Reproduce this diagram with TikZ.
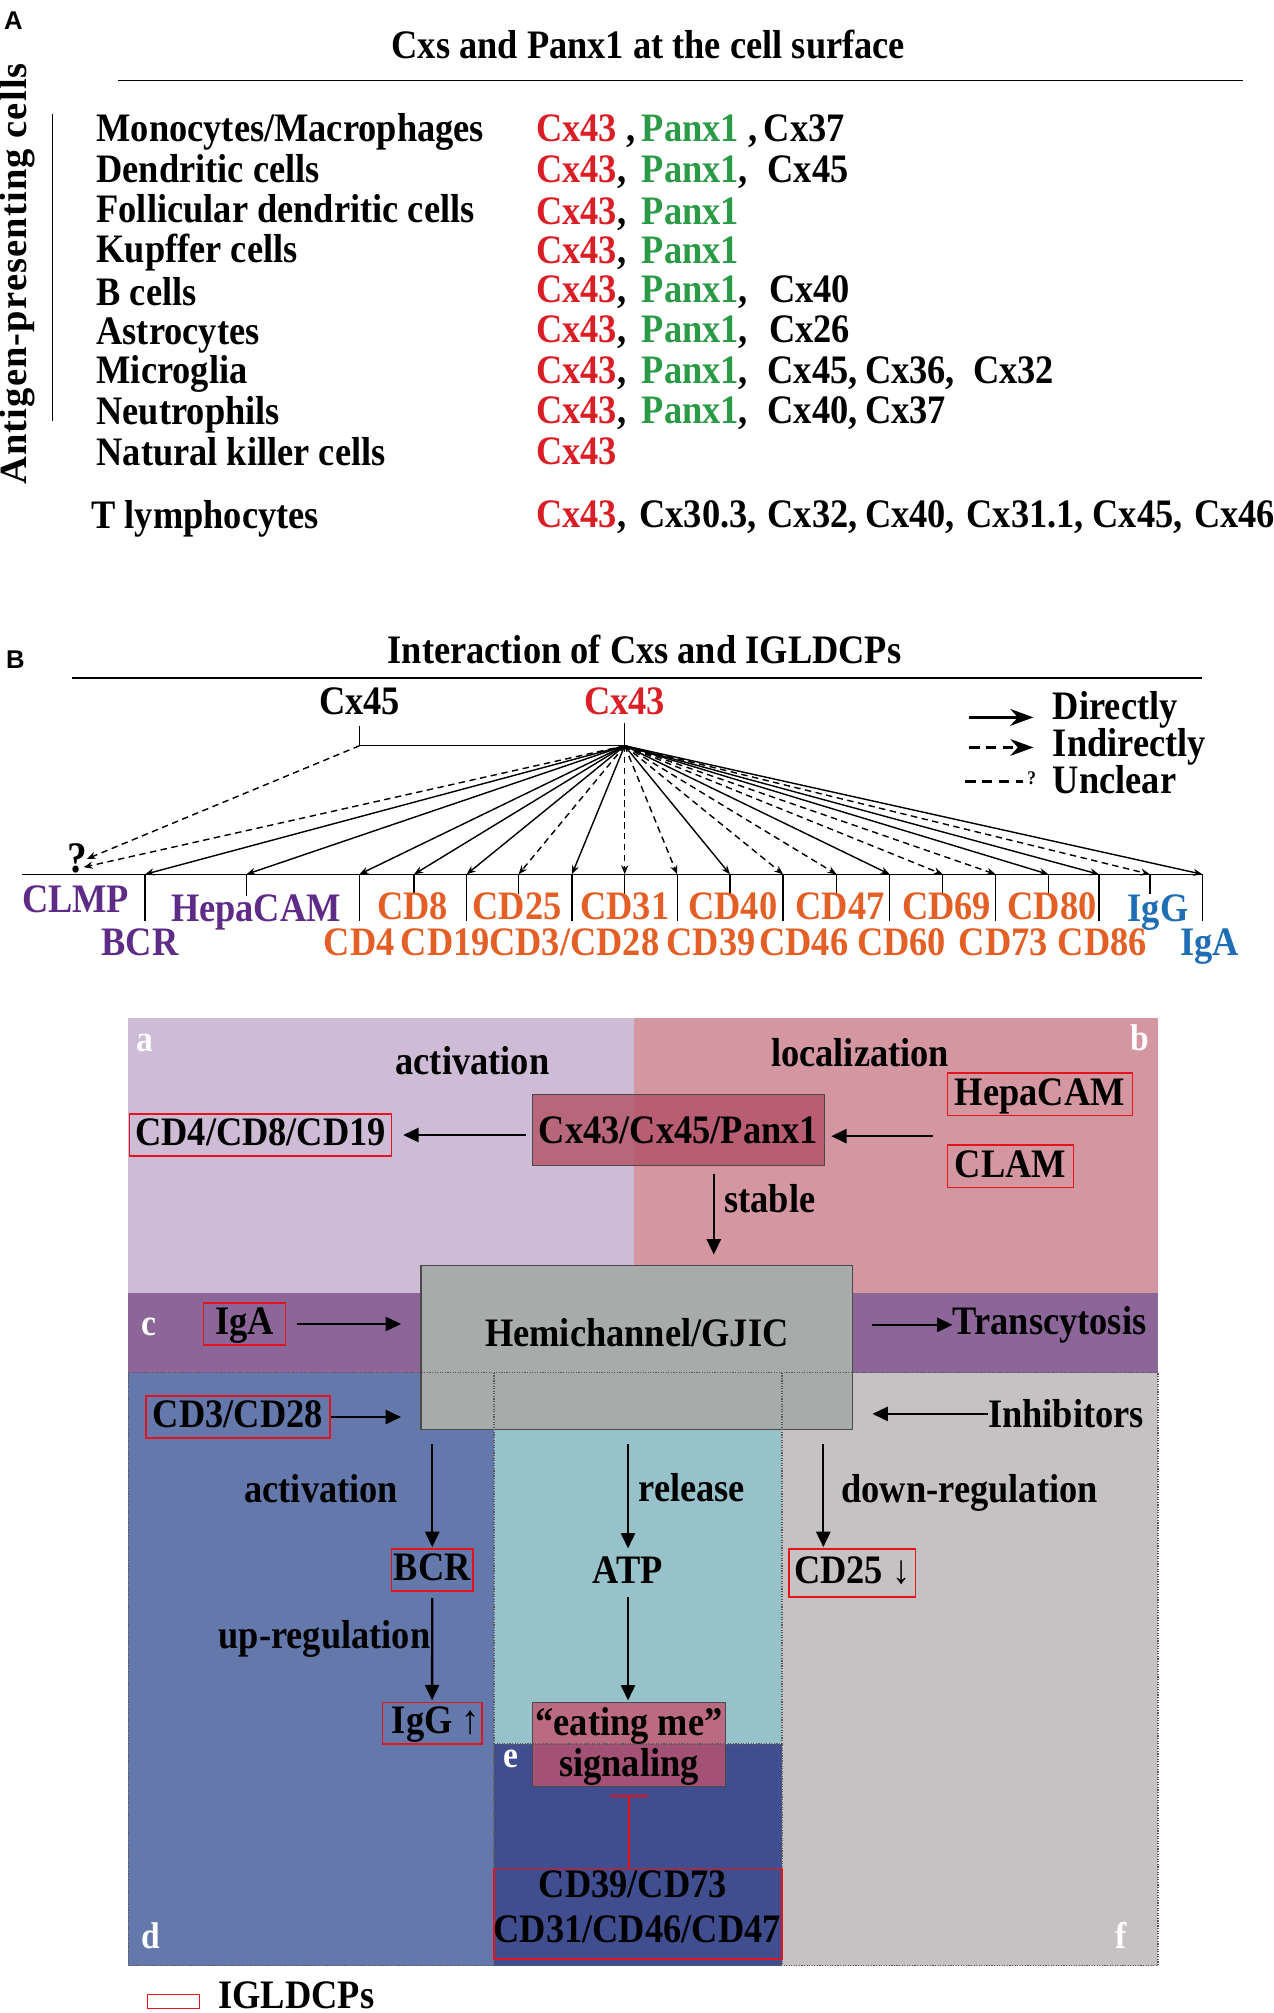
\documentclass[tikz,border=0pt]{standalone}
\usepackage{fontspec}
\setmainfont{Liberation Serif}[FakeStretch=0.9]
\newfontfamily\panelsans{Liberation Sans}
\newfontfamily\vertfont{Liberation Serif}[LetterSpace=3.0]
\usetikzlibrary{arrows.meta,calc}
\definecolor{cred}{HTML}{D91E25}
\definecolor{cgreen}{HTML}{2A9A46}
\definecolor{cpurple}{HTML}{5E2B87}
\definecolor{corange}{HTML}{E35F26}
\definecolor{cblue}{HTML}{1F6DB4}
\definecolor{boxred}{HTML}{E3151B}
\definecolor{rega}{HTML}{CEBBD5}
\definecolor{regb}{HTML}{D496A1}
\definecolor{regc}{HTML}{8C6699}
\definecolor{regd}{HTML}{6578AB}
\definecolor{regt}{HTML}{98C2CA}
\definecolor{rege}{HTML}{404E8F}
\definecolor{regf}{HTML}{C6C2C4}
\definecolor{hemigray}{HTML}{A7ACAA}
\definecolor{cxrosea}{HTML}{B8667A}
\definecolor{cxroseb}{HTML}{B95D73}
\definecolor{eattop}{HTML}{BA6B81}
\definecolor{eatbot}{HTML}{A35174}
\definecolor{edgegray}{HTML}{4A4A4A}
\newcommand{\myfs}{\fontsize{31.5}{35}\selectfont\bfseries}
\newcommand{\redt}[1]{\textcolor{cred}{#1}}
\newcommand{\grnt}[1]{\textcolor{cgreen}{#1}}
\begin{document}
\begin{tikzpicture}[x=1pt,y=-1pt,
  txt/.style={font=\myfs, inner sep=0pt, anchor=base west},
  txtc/.style={font=\myfs, inner sep=0pt, anchor=base},
  wlab/.style={inner sep=0pt, anchor=base west, text=white, font=\fontsize{29}{30}\selectfont\bfseries},
  redbox/.style={draw=boxred, line width=1.2pt, inner sep=0pt, font=\myfs, text height=20.8pt, text depth=4pt},
  arr/.style={line width=1.8pt, -{Triangle[length=12pt,width=11pt]}},
  fan/.style={line width=1.1pt, -{Stealth[length=7pt,width=5.5pt]}},
  fand/.style={fan, dash pattern=on 5pt off 3.5pt},
  tick/.style={line width=1.1pt},
  legarr/.style={line width=2.4pt, -{Stealth[length=18pt,width=13pt]}},
  dotl/.style={line width=0.9pt, dash pattern=on 0.9pt off 1.1pt, color=black!65},
  plab/.style={txt, text=cpurple},
  olab/.style={txt, text=corange},
  blab/.style={txt, text=cblue},
]
\useasboundingbox (0,0) rectangle (992,1568);

% ---------------- Panel A ----------------
\node[font=\fontsize{20}{20}\panelsans\bfseries, inner sep=0pt, anchor=base west] (labA) at (3,23.2) {A};
\node[txtc] (titA) at (505,45.9) {Cxs and Panx1 at the cell surface};
\draw[line width=1.1pt] (92,62.6) -- (968,62.6);
\node[font=\fontsize{30}{30}\vertfont\bfseries, rotate=90, anchor=base, inner sep=0pt] (apc) at (21,213.3) {Antigen-presenting cells};
\draw[line width=1pt] (41,89) -- (41,328);

\node[txt] (m1) at (75,109.9) {Monocytes/Macrophages};
\node[txt] (m2) at (75,142.4) {Dendritic cells};
\node[txt] (m3) at (75,173) {Follicular dendritic cells};
\node[txt] (m4) at (75,204.4) {Kupffer cells};
\node[txt] (m5) at (75,238.3) {B cells};
\node[txt] (m6) at (75,268.3) {Astrocytes};
\node[txt] (m7) at (75,299) {Microglia};
\node[txt] (m8) at (75,331) {Neutrophils};
\node[txt] (m9) at (75,362.9) {Natural killer cells};
\node[txt] (m10) at (71,412) {T lymphocytes};

\node[txt] (r1) at (417.5,109.9) {\makebox[82.3pt][l]{\redt{Cx43} ,}\makebox[94.9pt][l]{\grnt{Panx1} ,}Cx37};
\node[txt] (r2) at (417.5,142.4) {\makebox[82.3pt][l]{\redt{Cx43},}\makebox[98pt][l]{\grnt{Panx1},}Cx45};
\node[txt] (r3) at (417.5,174.5) {\makebox[82.3pt][l]{\redt{Cx43},}\grnt{Panx1}};
\node[txt] (r4) at (417.5,205.5) {\makebox[82.3pt][l]{\redt{Cx43},}\grnt{Panx1}};
\node[txt] (r5) at (417.5,236) {\makebox[82.3pt][l]{\redt{Cx43},}\makebox[99.2pt][l]{\grnt{Panx1},}Cx40};
\node[txt] (r6) at (417.5,266.5) {\makebox[82.3pt][l]{\redt{Cx43},}\makebox[99.2pt][l]{\grnt{Panx1},}Cx26};
\node[txt] (r7) at (417.5,298.5) {\makebox[82.3pt][l]{\redt{Cx43},}\makebox[98pt][l]{\grnt{Panx1},}\makebox[75.9pt][l]{Cx45,}\makebox[84.2pt][l]{Cx36,}Cx32};
\node[txt] (r8) at (417.5,329.5) {\makebox[82.3pt][l]{\redt{Cx43},}\makebox[98pt][l]{\grnt{Panx1},}\makebox[75.9pt][l]{Cx40,}Cx37};
\node[txt] (r9) at (417.5,361.5) {\redt{Cx43}};
\node[txt] (r10) at (417.5,411) {\makebox[80.4pt][l]{\redt{Cx43},}\makebox[99.9pt][l]{Cx30.3,}\makebox[75.9pt][l]{Cx32,}\makebox[79.1pt][l]{Cx40,}\makebox[98.1pt][l]{Cx31.1,}\makebox[79.1pt][l]{Cx45,}Cx46};

% ---------------- Panel B ----------------
\node[font=\fontsize{20}{20}\panelsans\bfseries, inner sep=0pt, anchor=base west] (labB) at (4.5,520.4) {B};
\node[txtc] (titB) at (502,516.5) {Interaction of Cxs and IGLDCPs};
\draw[line width=1.1pt] (56.3,528.2) -- (936.5,528.2);

\node[txtc] (cx45) at (280,556.2) {Cx45};
\node[txtc, text=cred] (cx43) at (486.6,556.2) {Cx43};
\coordinate (hub45) at (280,580.9);
\coordinate (hub) at (486.6,580.9);
\draw[tick] ($(cx45.south)+(0,9)$) -- (hub45) -- (hub) -- ($(cx43.south)+(0,6.5)$);

\coordinate (bl0) at (17,681);
\coordinate (bl1) at (937,681);
\draw[tick] (bl0) -- (bl1);

\foreach \n/\x/\l/\s in {1/113/36.6/fan, 2/192/17/fan, 3/280/36.6/fan, 4/322.5/15/fan,
  5/363.5/36.6/fan, 6/404/15/fand, 7/445.5/36.6/fan, 8/486.6/15/fand, 9/527.5/36.6/fand,
  10/568.6/15/fan, 11/610/36.6/fand, 12/651.6/15/fand, 13/693/36.6/fan, 14/734.3/15/fand,
  15/775.5/36.6/fand, 16/816.6/15/fan, 17/856/36.6/fan, 18/895.7/15/fand, 19/936.5/36.6/fan}{
  \coordinate (t\n) at (\x,681);
  \draw[tick] (t\n) -- ++(0,\l);
  \draw[\s] (hub) -- (t\n);
}

\node[font=\fontsize{34}{34}\selectfont\bfseries, inner sep=0pt, anchor=base west] (qm) at (52,680) {?};
\draw[fand] (hub45) -- (qm.east);
\draw[fand] (hub) -- ($(qm.east)+(-2.5,6.5)$);

% upper labels
\node[plab] (lCLMP) at (17,711) {CLMP};
\node[plab] (lHepa) at (133,717.6) {HepaCAM};
\node[olab] (lCD8) at (293.7,716.5) {CD8};
\node[olab] (lCD25) at (367.8,716.5) {CD25};
\node[olab] (lCD31) at (451.9,716.5) {CD31};
\node[olab] (lCD40) at (535.9,716.5) {CD40};
\node[olab] (lCD47) at (619.5,716.5) {CD47};
\node[olab] (lCD69) at (702.5,716.5) {CD69};
\node[olab] (lCD80) at (784.6,716.5) {CD80};
\node[blab] (lIgG) at (878.2,717.6) {IgG};
% lower labels
\node[plab] (lBCR) at (79,744.5) {BCR};
\node[olab] (lCD4) at (252,744.5) {CD4};
\node[olab] (lCD19) at (312,744.5) {CD19};
\node[olab] (lCD3) at (381,744.5) {CD3/CD28};
\node[olab] (lCD39) at (519,744.5) {CD39};
\node[olab] (lCD46) at (591.3,744.5) {CD46};
\node[olab] (lCD60) at (667.4,744.5) {CD60};
\node[olab] (lCD73) at (746.7,744.5) {CD73};
\node[olab] (lCD86) at (823.7,744.5) {CD86};
\node[blab] (lIgA) at (919.1,744.5) {IgA};

% legend
\node[txt] (ldir) at (820,560.6) {Directly};
\node[txt] (lind) at (820,589.2) {Indirectly};
\node[txt] (lunc) at (820,618.2) {Unclear};
\draw[legarr] ($(ldir.base west)+(-65,-1.8)$) -- ($(ldir.base west)+(-15,-1.8)$);
\draw[legarr, dash pattern=on 8pt off 5pt] ($(lind.base west)+(-65,-7)$) -- ($(lind.base west)+(-15,-7)$);
\draw[line width=2.4pt, dash pattern=on 8pt off 5pt] ($(lunc.base west)+(-68,-9.2)$) -- ($(lunc.base west)+(-23,-9.2)$);
\node[font=\fontsize{15}{15}\selectfont\bfseries, inner sep=0pt, anchor=base west] (lq) at (800,611) {?};

% ---------------- lower panel ----------------
\fill[rega] (100,793) rectangle (494,1007);
\fill[regb] (494,793) rectangle (902,1007);
\fill[regc] (100,1007) rectangle (902,1069.3);
\fill[regd] (100,1069.3) rectangle (384.8,1531);
\fill[regt] (384.8,1069.3) rectangle (609.1,1358.5);
\fill[rege] (384.8,1358.5) rectangle (609.1,1531);
\fill[regf] (609.1,1069.3) rectangle (902,1531);

\fill[cxrosea] (415,852.6) rectangle (494,908);
\fill[cxroseb] (494,852.6) rectangle (642,908);
\node[draw=edgegray, line width=1pt, inner sep=0pt, minimum width=227pt, minimum height=55.4pt, font=\myfs, text height=20.8pt, text depth=0pt] (cxbox) at (528.5,880.3) {Cx43/Cx45/Panx1};

\node[draw=edgegray, fill=hemigray, line width=1.2pt, inner sep=0pt, minimum width=336pt, minimum height=127.7pt, font=\myfs, text height=20.8pt, text depth=22pt] (hemi) at (496,1049.65) {Hemichannel/GJIC};

\fill[eattop] (414.6,1326) rectangle (565.3,1358.5);
\fill[eatbot] (414.6,1358.5) rectangle (565.3,1391.4);
\node[draw=edgegray, line width=1pt, inner sep=0pt, minimum width=150.7pt, minimum height=65.4pt] (eatbox) at (489.95,1358.7) {};

% dotted borders
\draw[dotl] (100,1069.3) rectangle (902,1531);
\draw[dotl] (384.8,1069.3) -- (384.8,1531);
\draw[dotl] (609.1,1069.3) -- (609.1,1531);
\draw[dotl] (384.8,1358.5) -- (609.1,1358.5);

\node[txtc] (eat1) at (490,1351.8) {“eating me”};
\node[txtc] (eat2) at (490,1383.8) {signaling};

% red boxes
\node[redbox, minimum width=204pt, minimum height=33pt] (cd4b) at (203,884.1) {CD4/CD8/CD19};
\node[redbox, minimum width=144pt, minimum height=33pt] (hepab) at (810,852.5) {HepaCAM};
\node[redbox, minimum width=98pt, minimum height=33pt] (clamb) at (787,908.5) {CLAM};
\node[redbox, minimum width=64.1pt, minimum height=33pt] (igab) at (190.45,1031.3) {IgA};
\node[redbox, minimum width=143.2pt, minimum height=32.5pt] (cd3b) at (185.3,1103.75) {CD3/CD28};
\node[redbox, minimum width=63.4pt, minimum height=32.6pt] (bcrb) at (336.7,1223) {BCR};
\node[redbox, minimum width=77.5pt, minimum height=32.5pt] (iggb) at (336.55,1342.25) {\hspace*{6pt}IgG ↑};
\node[redbox, minimum width=98.7pt, minimum height=37.1pt] (cd25b) at (663.85,1225.25) {CD25 ↓};
\node[draw=boxred, line width=1.2pt, inner sep=0pt, minimum width=224.3pt, minimum height=70.7pt] (cdbox) at (496.95,1490.65) {};
\node[txtc] (cd39) at (493,1478.2) {CD39/CD73};
\node[txtc] (cd31) at (496.3,1513.2) {CD31/CD46/CD47};

% text labels
\node[txtc] (acta) at (368,837) {activation};
\node[txtc] (loc) at (670,830.5) {localization};
\node[txt] (stab) at (564,944.7) {stable};
\node[txt] (trans) at (742,1039.5) {Transcytosis};
\node[txt] (inhib) at (769.5,1112.1) {Inhibitors};
\node[txtc] (actd) at (250.3,1170.7) {activation};
\node[txt] (rel) at (497.3,1169.8) {release};
\node[txt] (down) at (655.3,1170) {down-regulation};
\node[txtc] (upreg) at (252.7,1284) {up-regulation};
\node[txtc] (atp) at (489.2,1233.1) {ATP};

\node[wlab] (wa) at (106,819) {a};
\node[wlab] (wb) at (880.6,818) {b};
\node[wlab] (wc) at (110,1040) {c};
\node[wlab] (wd) at (110,1518) {d};
\node[wlab] (we) at (392,1376.6) {e};
\node[wlab] (wf) at (869,1517.6) {f};

% arrows
\draw[arr] ($(cxbox.west |- cd4b.east)+(-5,0)$) -- ($(cd4b.east)+(8.5,0)$);
\coordinate (hcsrc) at (727,885);
\draw[arr] (hcsrc) -- ($(cxbox.east |- hcsrc)+(5,0)$);
\draw[arr] ($(cxbox.south)+(27.5,6)$) -- ($(hemi.north)+(60,-8)$);
\draw[arr] ($(igab.east)+(8,0)$) -- ($(hemi.west |- igab.east)+(-15,0)$);
\draw[arr] ($(hemi.east |- trans.west)+(15,0)$) -- (trans.west);
\draw[arr] (cd3b.east) -- ($(hemi.west |- cd3b.east)+(-15,0)$);
\draw[arr] (inhib.west) -- ($(hemi.east |- inhib.west)+(15,0)$);
\draw[arr] ($(hemi.south -| bcrb.north)+(0,11)$) -- ($(bcrb.north)+(0,-1)$);
\draw[arr] ($(bcrb.south)+(0,5)$) -- ($(iggb.north)+(0,-1)$);
\draw[arr] ($(hemi.south -| atp.south)+(0,11)$) -- ($(atp.north)+(0,-6)$);
\draw[arr] ($(atp.south)+(0,11)$) -- ($(eatbox.north -| atp.south)+(0,-1)$);
\draw[arr] ($(hemi.south -| cd25b.north west)+(27.4,11)$) -- ($(cd25b.north west)+(27.4,-1)$);
\draw[boxred, line width=2pt, -{Bar[width=29pt]}] (eatbox.south |- cdbox.north) -- ($(eatbox.south)+(0,6)$);

% legend bottom
\node[draw=boxred, line width=1.2pt, inner sep=0pt, minimum width=40.3pt, minimum height=10.7pt] (legbox) at (135.15,1558.95) {};
\node[txt] (legtxt) at (170,1564.5) {IGLDCPs};
\end{tikzpicture}
\end{document}
